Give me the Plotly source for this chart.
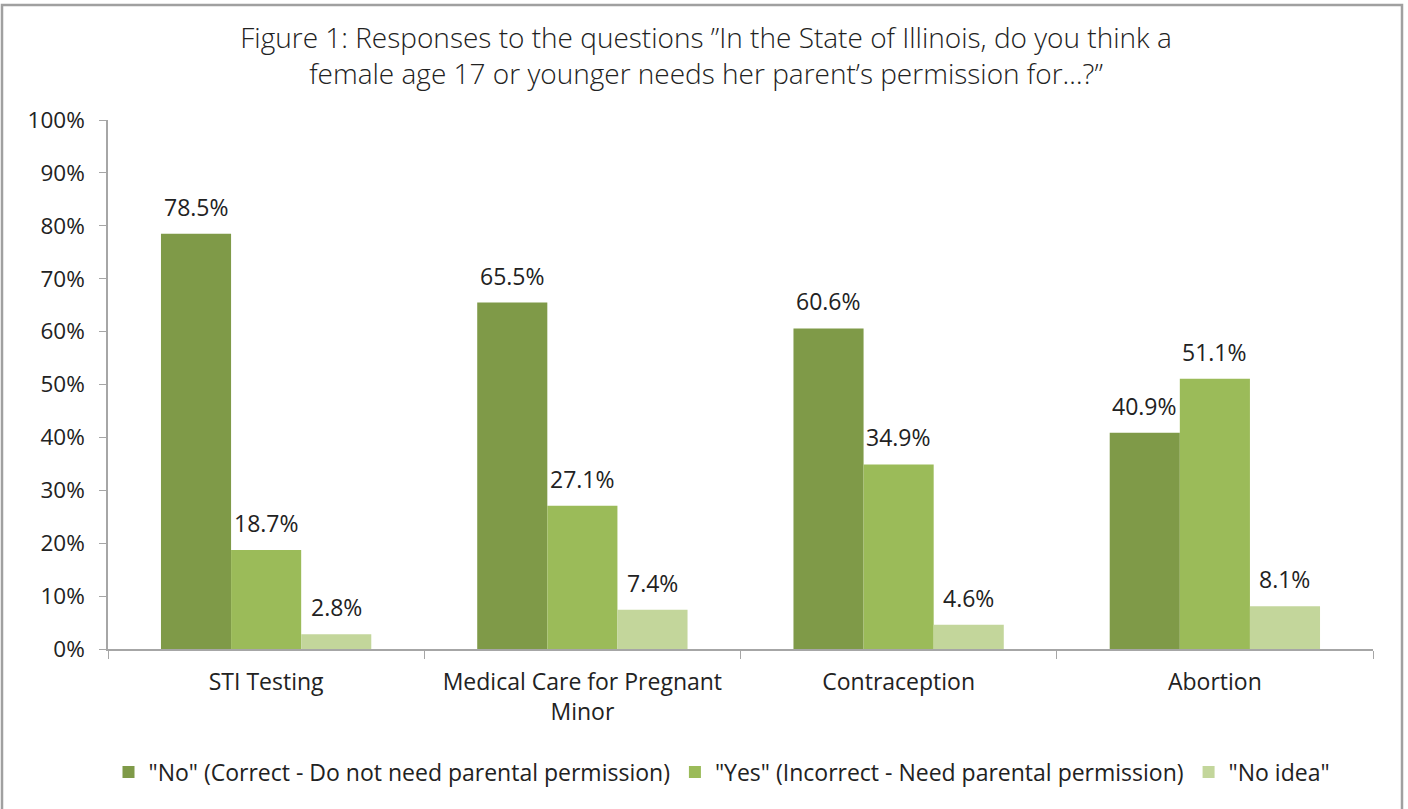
import plotly.graph_objects as go

categories = ["STI Testing", "Medical Care for Pregnant<br>Minor", "Contraception", "Abortion"]
series_names = ['"No" (Correct - Do not need parental permission)',
                '"Yes" (Incorrect - Need parental permission)',
                '"No idea"']
no_vals = [78.5, 65.5, 60.6, 40.9]
yes_vals = [18.7, 27.1, 34.9, 51.1]
noidea_vals = [2.8, 7.4, 4.6, 8.1]
colors = ["#7F9A48", "#9BBB59", "#C3D69B"]
title_text = ("Figure 1: Responses to the questions \u201dIn the State of Illinois, do you think a<br>"
              "female age 17 or younger needs her parent\u2019s permission for\u2026?\u201d")

series = [no_vals, yes_vals, noidea_vals]
font_lbl = "'Open Sans', sans-serif"
FS = 23

fig = go.Figure()
for name, vals, col in zip(series_names, series, colors):
    fig.add_trace(go.Bar(x=categories, y=vals, name=name, marker=dict(color=col, line=dict(width=0))))

# data labels as annotations
bar_px = 70
for si, vals in enumerate(series):
    for ci, v in enumerate(vals):
        fig.add_annotation(x=categories[ci], y=v, text=f"{v:.1f}%", showarrow=False,
                           xshift=(si - 1) * bar_px, yshift=27, yanchor="middle",
                           font=dict(family=font_lbl, size=FS, color="#222"))

fig.update_layout(
    width=1408, height=809,
    margin=dict(l=108, r=35, t=120, b=160),
    paper_bgcolor="white", plot_bgcolor="white",
    barmode="group", bargap=0.335, bargroupgap=0,
    title=dict(text=title_text, x=706 / 1408, xanchor="center", y=1 - 48 / 809, yanchor="middle",
               font=dict(family="'Open Sans', sans-serif", size=28, weight=300, color="#222")),
    font=dict(family=font_lbl, size=FS, color="#222"),
    legend=dict(orientation="h", x=(722 - 108) / 1265, xanchor="center", y=(649 - 772) / 529, yanchor="middle",
                font=dict(family=font_lbl, size=FS, color="#222"), itemwidth=30, traceorder="normal"),
    showlegend=True,
)
fig.update_yaxes(range=[0, 100], dtick=10, ticksuffix="%", showgrid=False, zeroline=False,
                 showline=True, linecolor="#A6A6A6", linewidth=1.5, ticks="outside", ticklen=7,
                 tickcolor="#A6A6A6", tickfont=dict(family=font_lbl, size=FS - 0.5, color="#222"),
                 ticklabelstandoff=10)
fig.update_xaxes(showline=True, linecolor="#A6A6A6", linewidth=1.5, ticks="outside", ticklen=8,
                 tickcolor="#A6A6A6", tickson="boundaries", showgrid=False,
                 tickfont=dict(family=font_lbl, size=FS, color="#222"), ticklabelstandoff=12)

# outer frame
fig.add_shape(type="rect", xref="paper", yref="paper",
              x0=(2 - 108) / 1265, x1=(1402 - 108) / 1265,
              y0=(649 - 812) / 529, y1=(649 - 5) / 529,
              line=dict(color="#A0A0A0", width=2.5), fillcolor="rgba(0,0,0,0)", layer="below")

fig.write_html("out.html")
